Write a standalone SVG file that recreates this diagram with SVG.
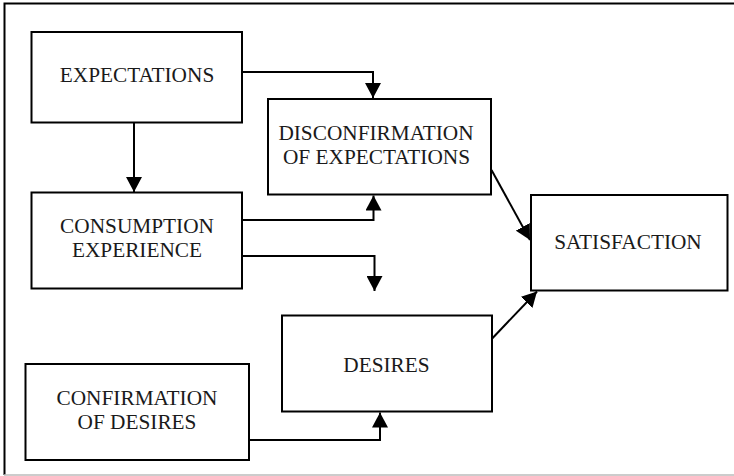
<svg xmlns="http://www.w3.org/2000/svg" width="734" height="476" viewBox="0 0 734 476">
<style>
.box{fill:#fff;stroke:#000;stroke-width:2}
.c{fill:none;stroke:#000;stroke-width:2}
</style>
<defs>
<marker id="ah" viewBox="0 0 15 16" refX="15" refY="8" markerWidth="15" markerHeight="16" markerUnits="userSpaceOnUse" orient="auto">
<path d="M0,0 L15,8 L0,16 Z" fill="#000"/>
</marker>
</defs>
<rect width="734" height="476" fill="#fff"/>
<path d="M4.5,475 V3.5 H734" fill="none" stroke="#000" stroke-width="2"/>
<line x1="4" y1="475" x2="734" y2="475" stroke="#bbb" stroke-width="1.5"/>
<g font-family="Liberation Serif, DejaVu Serif, serif" font-size="21.3" fill="#1a1a1a" text-anchor="middle">
<g id="expectations">
<rect class="box" x="31.5" y="32" width="210.5" height="90.5"/>
<text x="137" y="82">EXPECTATIONS</text>
</g>
<g id="consumption">
<rect class="box" x="31.5" y="192.5" width="210.5" height="96"/>
<text x="137" y="233">CONSUMPTION</text>
<text x="137" y="257">EXPERIENCE</text>
</g>
<g id="disconfirmation">
<rect class="box" x="268" y="99" width="223" height="95.5"/>
<text x="376" y="140">DISCONFIRMATION</text>
<text x="376.5" y="164">OF EXPECTATIONS</text>
</g>
<g id="desires">
<rect class="box" x="282" y="315.5" width="210" height="96"/>
<text x="386.5" y="372">DESIRES</text>
</g>
<g id="confirmation">
<rect class="box" x="25.5" y="364" width="223.5" height="96"/>
<text x="137" y="405">CONFIRMATION</text>
<text x="137" y="429">OF DESIRES</text>
</g>
<g id="satisfaction">
<rect class="box" x="531" y="195" width="196.5" height="95.5"/>
<text x="628" y="248.5">SATISFACTION</text>
</g>
</g>
<g id="connectors">
<path class="c" d="M242,72 H373 V98" marker-end="url(#ah)"/>
<path class="c" d="M134,122.5 V192" marker-end="url(#ah)"/>
<path class="c" d="M242,220 H373.5 V195.5" marker-end="url(#ah)"/>
<path class="c" d="M242,256 H374.5 V291" marker-end="url(#ah)"/>
<path class="c" d="M249,440 H380 V412.5" marker-end="url(#ah)"/>
<path class="c" d="M491.5,170 L530,240" marker-end="url(#ah)"/>
<path class="c" d="M491.7,339 L537,291.5" marker-end="url(#ah)"/>
</g>
</svg>
